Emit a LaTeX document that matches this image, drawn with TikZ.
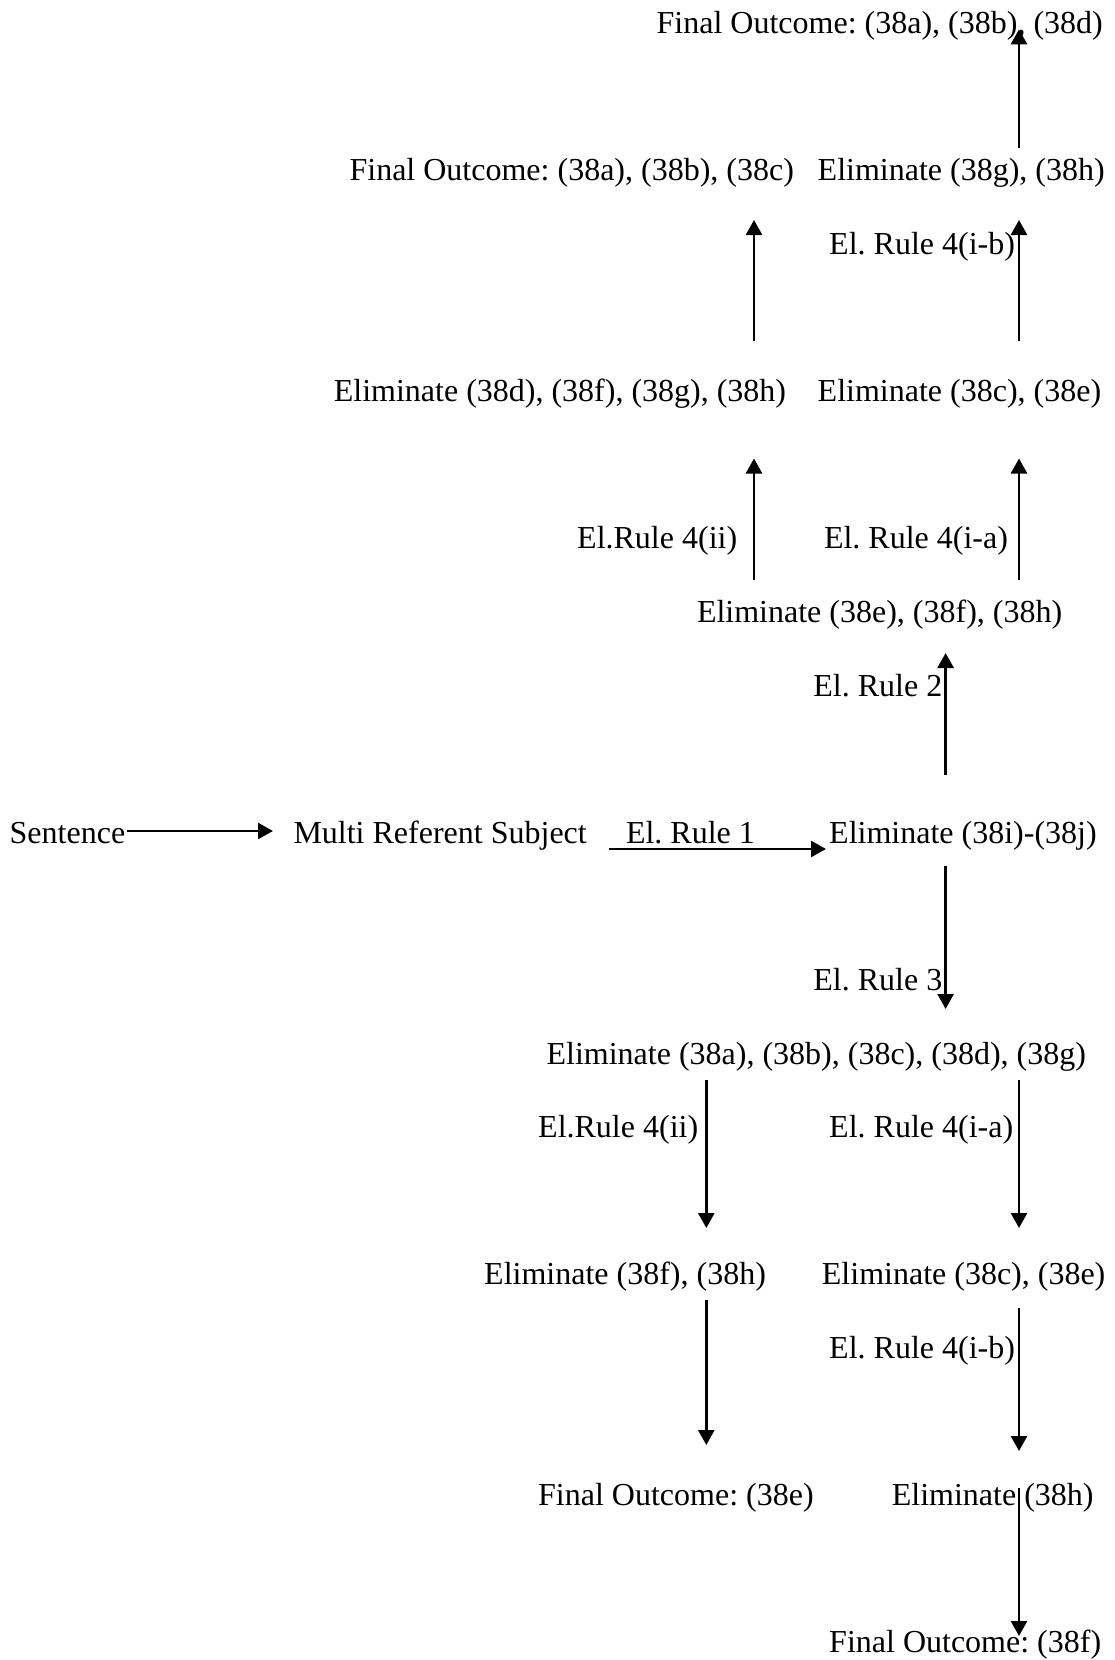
\documentclass[tikz,border=0pt]{standalone}
\usepackage{fontspec}
\setmainfont{Liberation Serif}
\usetikzlibrary{arrows.meta}
\begin{document}
\frenchspacing
\begin{tikzpicture}[x=1pt,y=-1pt,
  lbl/.style={anchor=base west,inner sep=0pt,font=\fontsize{32}{36}\selectfont},
  link/.style={line width=2.6pt,-{Triangle[length=15pt,width=16pt]}}]
\useasboundingbox (0,0) rectangle (1115,1660);
% rows sit on a regular grid of 73.6 units, first baseline at 33.6
\def\rowy#1{\fpeval{33.6+73.6*#1}}
% upper branch
\node[lbl] (foabd) at (656.5,{\rowy{0}}) {Final Outcome: (38a), (38b), (38d)};
\node[lbl] (foabc) at (349.4,{\rowy{2}}) {Final Outcome: (38a), (38b), (38c)};
\node[lbl] (elgh) at (817.5,{\rowy{2}}) {Eliminate (38g), (38h)};
\node[lbl] (r4ibu) at (829,{\rowy{3}}) {El. Rule 4(i-b)};
\node[lbl] (eldfgh) at (333.6,{\rowy{5}}) {Eliminate (38d), (38f), (38g), (38h)};
\node[lbl] (elceu) at (817.5,{\rowy{5}}) {Eliminate (38c), (38e)};
\node[lbl] (r4iiu) at (577,{\rowy{7}}) {El.Rule 4(ii)};
\node[lbl] (r4iau) at (823.8,{\rowy{7}}) {El. Rule 4(i-a)};
\node[lbl] (elefh) at (696.8,{\rowy{8}}) {Eliminate (38e), (38f), (38h)};
\node[lbl] (r2) at (813.2,{\rowy{9}}) {El. Rule 2};
% main line
\node[lbl] (sent) at (9.5,{\rowy{11}}) {Sentence};
\node[lbl] (multi) at (293.3,{\rowy{11}}) {Multi Referent Subject};
\node[lbl] (r1) at (625.8,{\rowy{11}}) {El. Rule 1};
\node[lbl] (elij) at (829,{\rowy{11}}) {Eliminate (38i)-(38j)};
% lower branch
\node[lbl] (r3) at (813.2,{\rowy{13}}) {El. Rule 3};
\node[lbl] (elabcdg) at (546.4,{\rowy{14}}) {Eliminate (38a), (38b), (38c), (38d), (38g)};
\node[lbl] (r4iil) at (538,{\rowy{15}}) {El.Rule 4(ii)};
\node[lbl] (r4ial) at (829,{\rowy{15}}) {El. Rule 4(i-a)};
\node[lbl] (elfh) at (484,{\rowy{17}}) {Eliminate (38f), (38h)};
\node[lbl] (elcel) at (821.7,{\rowy{17}}) {Eliminate (38c), (38e)};
\node[lbl] (r4ibl) at (829,{\rowy{18}}) {El. Rule 4(i-b)};
\node[lbl] (foe) at (538,{\rowy{20}}) {Final Outcome: (38e)};
\node[lbl] (elh) at (891.6,{\rowy{20}}) {Eliminate (38h)};
\node[lbl] (fof) at (829,{\rowy{22}}) {Final Outcome: (38f)};
% connector end points
\coordinate (a1s) at (1019,148);    \coordinate (a1e) at (1019,29.3);
\coordinate (a2s) at (754,341);     \coordinate (a2e) at (754,220);
\coordinate (a3s) at (1019,341);    \coordinate (a3e) at (1019,220);
\coordinate (a4s) at (754,580);     \coordinate (a4e) at (754,458.5);
\coordinate (a5s) at (1019,580);    \coordinate (a5e) at (1019,458.5);
\coordinate (a6s) at (945.6,775);   \coordinate (a6e) at (945.6,653);
\coordinate (h1s) at (127,831);     \coordinate (h1e) at (273,831);
\coordinate (h2s) at (609,849);     \coordinate (h2e) at (826,849);
\coordinate (d1s) at (945.6,866);   \coordinate (d1e) at (945.6,1009);
\coordinate (d2s) at (706.3,1080);  \coordinate (d2e) at (706.3,1228);
\coordinate (d3s) at (1019,1080);   \coordinate (d3e) at (1019,1228);
\coordinate (d4s) at (706.3,1300);  \coordinate (d4e) at (706.3,1445);
\coordinate (d5s) at (1019,1308);   \coordinate (d5e) at (1019,1451);
\coordinate (d6s) at (1019,1488);   \coordinate (d6e) at (1019,1636);
% connectors
\draw[link] (a1s) -- (a1e);
\draw[link] (a2s) -- (a2e);
\draw[link] (a3s) -- (a3e);
\draw[link] (a4s) -- (a4e);
\draw[link] (a5s) -- (a5e);
\draw[link] (a6s) -- (a6e);
\draw[link] (h1s) -- (h1e);
\draw[link] (h2s) -- (h2e);
\draw[link] (d1s) -- (d1e);
\draw[link] (d2s) -- (d2e);
\draw[link] (d3s) -- (d3e);
\draw[link] (d4s) -- (d4e);
\draw[link] (d5s) -- (d5e);
\draw[link] (d6s) -- (d6e);
\end{tikzpicture}
\end{document}
